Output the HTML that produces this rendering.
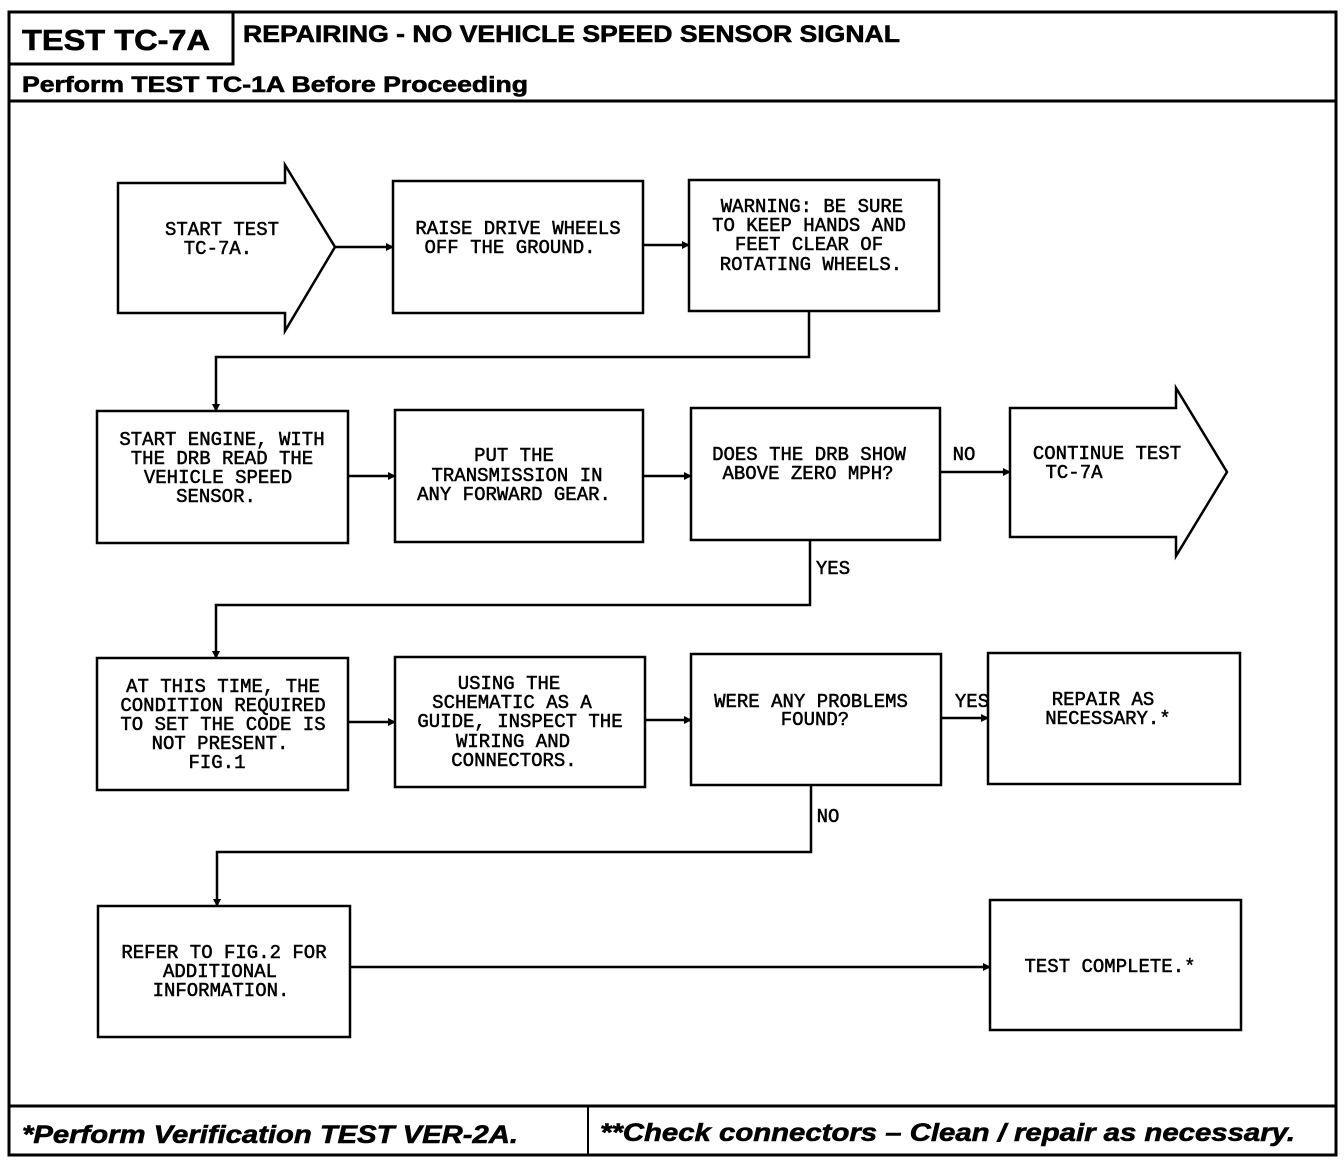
<!DOCTYPE html>
<html><head><meta charset="utf-8"><style>
html,body{margin:0;padding:0;background:#fff;}
svg{display:block;}
.t{font-family:"Liberation Mono",monospace;font-size:19px;fill:#000;stroke:#000;stroke-width:0.5;text-anchor:middle;}
.h{font-family:"Liberation Sans",sans-serif;font-weight:bold;fill:#000;stroke:#000;stroke-width:0.6;}
</style></head><body>
<svg width="1344" height="1166" viewBox="0 0 1344 1166" xmlns="http://www.w3.org/2000/svg">
<defs><marker id="a" markerWidth="8" markerHeight="8" refX="7" refY="4" orient="auto" markerUnits="userSpaceOnUse"><path d="M0,0 L8,4 L0,8 z" fill="#000"/></marker></defs>
<g fill="none" stroke="#000" stroke-width="3">
<rect x="9" y="12" width="1327" height="1143"/>
<rect x="9" y="12" width="224" height="52"/>
<line x1="9" y1="101" x2="1336" y2="101"/>
<line x1="9" y1="1106" x2="1336" y2="1106"/>
<line x1="588" y1="1106" x2="588" y2="1155" stroke-width="2"/>
</g>
<text class="h" x="22" y="50" font-size="29" textLength="188" lengthAdjust="spacingAndGlyphs">TEST TC-7A</text>
<text class="h" x="243" y="42" font-size="24" textLength="657" lengthAdjust="spacingAndGlyphs">REPAIRING - NO VEHICLE SPEED SENSOR SIGNAL</text>
<text class="h" x="22" y="92" font-size="22" textLength="506" lengthAdjust="spacingAndGlyphs">Perform TEST TC-1A Before Proceeding</text>
<text class="h" x="22" y="1143" font-size="25" font-style="italic" textLength="496" lengthAdjust="spacingAndGlyphs">*Perform Verification TEST VER-2A.</text>
<text class="h" x="600" y="1141" font-size="25" font-style="italic" textLength="695" lengthAdjust="spacingAndGlyphs">**Check connectors – Clean / repair as necessary.</text>

<g fill="#fff" stroke="#000" stroke-width="2.5">
<polygon points="118,183 285,183 285,165 335,247 285,331 285,313 118,313"/>
<rect x="393" y="181" width="250" height="132"/>
<rect x="689" y="180" width="250" height="131"/>
<rect x="97" y="411" width="251" height="132"/>
<rect x="395" y="410" width="248" height="132"/>
<rect x="691" y="408" width="249" height="132"/>
<polygon points="1010,408 1176,408 1176,388 1227,472 1176,556 1176,537 1010,537"/>
<rect x="97" y="658" width="251" height="132"/>
<rect x="395" y="657" width="250" height="130"/>
<rect x="691" y="654" width="250" height="131"/>
<rect x="988" y="653" width="252" height="131"/>
<rect x="98" y="906" width="252" height="131"/>
<rect x="990" y="900" width="251" height="130"/>
</g>
<g fill="none" stroke="#000" stroke-width="2.5" marker-end="url(#a)">
<line x1="335" y1="247" x2="393" y2="247"/>
<line x1="643" y1="245" x2="689" y2="245"/>
<polyline points="809,311 809,357 216,357 216,411"/>
<line x1="348" y1="476" x2="395" y2="476"/>
<line x1="643" y1="476" x2="691" y2="476"/>
<line x1="940" y1="472" x2="1010" y2="472"/>
<polyline points="810,540 810,605 216,605 216,658"/>
<line x1="348" y1="722" x2="395" y2="722"/>
<line x1="645" y1="720" x2="691" y2="720"/>
<line x1="941" y1="718" x2="988" y2="718"/>
<polyline points="811,785 811,852 217,852 217,906"/>
<line x1="350" y1="967" x2="990" y2="967"/>
</g>
<g class="t">
<text x="222" y="235">START TEST</text><text x="218" y="254">TC-7A.</text>
<text x="518" y="234">RAISE DRIVE WHEELS</text><text x="510" y="253">OFF THE GROUND.</text>
<text x="812" y="212">WARNING: BE SURE</text><text x="809" y="231">TO KEEP HANDS AND</text><text x="809" y="250">FEET CLEAR OF</text><text x="811" y="270">ROTATING WHEELS.</text>
<text x="222" y="445">START ENGINE, WITH</text><text x="222" y="464">THE DRB READ THE</text><text x="218" y="483">VEHICLE SPEED</text><text x="216" y="502">SENSOR.</text>
<text x="514" y="461">PUT THE</text><text x="517" y="481">TRANSMISSION IN</text><text x="514" y="500">ANY FORWARD GEAR.</text>
<text x="809" y="460">DOES THE DRB SHOW</text><text x="808" y="479">ABOVE ZERO MPH?</text>
<text x="964" y="460">NO</text>
<text x="1107" y="459">CONTINUE TEST</text><text x="1074" y="478">TC-7A</text>
<text x="833" y="574">YES</text>
<text x="223" y="692">AT THIS TIME, THE</text><text x="223" y="711">CONDITION REQUIRED</text><text x="223" y="730">TO SET THE CODE IS</text><text x="220" y="749">NOT PRESENT.</text><text x="217" y="768">FIG.1</text>
<text x="509" y="689">USING THE</text><text x="512" y="708">SCHEMATIC AS A</text><text x="520" y="727">GUIDE, INSPECT THE</text><text x="513" y="747">WIRING AND</text><text x="514" y="766">CONNECTORS.</text>
<text x="811" y="707">WERE ANY PROBLEMS</text><text x="815" y="725">FOUND?</text>
<text x="972" y="707">YES</text>
<text x="1103" y="705">REPAIR AS</text><text x="1108" y="724">NECESSARY.*</text>
<text x="828" y="822">NO</text>
<text x="224" y="958">REFER TO FIG.2 FOR</text><text x="220" y="977">ADDITIONAL</text><text x="221" y="996">INFORMATION.</text>
<text x="1110" y="972">TEST COMPLETE.*</text>
</g>
</svg>
</body></html>
